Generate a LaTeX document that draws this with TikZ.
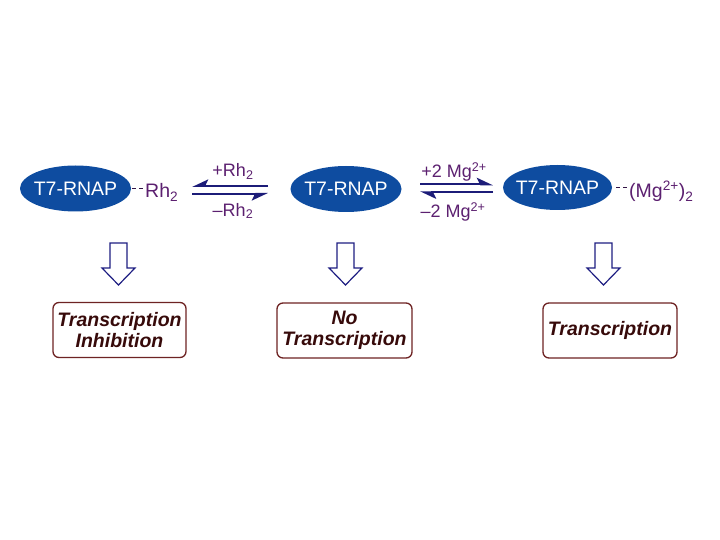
\documentclass[tikz,border=0pt]{standalone}
\usepackage{fontspec}
\setmainfont{Liberation Sans}
\usetikzlibrary{arrows.meta,shapes.geometric}
\definecolor{rnap}{RGB}{14,76,160}
\definecolor{lig}{RGB}{92,32,112}
\definecolor{bondcol}{RGB}{50,20,70}
\definecolor{eqarrow}{RGB}{28,28,120}
\definecolor{hollowline}{RGB}{30,30,130}
\definecolor{boxline}{RGB}{110,35,35}
\definecolor{boxtext}{RGB}{55,10,10}
\begin{document}
\begin{tikzpicture}[x=1pt,y=-1pt,
  enzyme/.style={ellipse, fill=rnap, text=white, minimum width=111pt, minimum height=46pt, inner xsep=-6pt, inner ysep=0pt, font=\fontsize{19.5}{20}\selectfont},
  ligand/.style={text=lig, inner sep=0pt, font=\fontsize{19.5}{20}\selectfont, anchor=base west},
  eqlabel/.style={text=lig, inner sep=0pt, font=\fontsize{18}{20}\selectfont, anchor=base},
  eqline/.style={draw=eqarrow, line width=2pt},
  tipswap/.style={-{Stealth[harpoon,swap,length=14pt,width=13pt,inset=3pt]}},
  tipnorm/.style={-{Stealth[harpoon,length=14pt,width=13pt,inset=3pt]}},
  bond/.style={draw=bondcol, line width=1.8pt, dash pattern=on 4pt off 3pt},
  result/.style={draw=boxline, line width=1.3pt, rounded corners=6pt, text=boxtext, align=center, inner sep=0pt, minimum height=55pt, font=\fontsize{19.5}{20.5}\selectfont\bfseries\itshape},
  hollowdown/.pic={\draw[draw=hollowline, line width=1.2pt, fill=white, line join=miter]
     (-8.5,0) -- (-8.5,25) -- (-16.5,25) -- (0,42) -- (16.5,25) -- (8.5,25) -- (8.5,0) -- cycle;}
]
\useasboundingbox[fill=white] (0,0) rectangle (720,540);

% enzymes
\node[enzyme] (e1) at (75.5,188.5) {T7-RNAP};
\node[enzyme] (e2) at (346,189) {T7-RNAP};
\node[enzyme, minimum width=109pt, minimum height=45pt] (e3) at (557.5,187.5) {T7-RNAP};

% ligands
\node[ligand] (rh1) at (145,198) {Rh\textsubscript{2}};
\node[ligand] (mg3) at (629,198) {(Mg\textsuperscript{2+})\textsubscript{2}};
\draw[bond] ([xshift=1pt]e1.east) -- (e1.east -| rh1.west);
\draw[bond] ([xshift=4pt]e3.east) -- ([xshift=-1pt]e3.east -| mg3.west);

% equilibrium 1
\coordinate (q1l) at (192,190);
\coordinate (q1r) at (268,190);
\draw[eqline, tipswap] ([yshift=4pt]q1r) -- ([yshift=4pt]q1l);
\draw[eqline, tipswap] ([yshift=-4pt]q1l) -- ([yshift=-4pt]q1r);
\node[eqlabel] (l1a) at (233,177) {+Rh\textsubscript{2}};
\node[eqlabel] (l1b) at (233,216) {–Rh\textsubscript{2}};

% equilibrium 2
\coordinate (q2l) at (420,188.3);
\coordinate (q2r) at (493,188.3);
\draw[eqline, tipnorm] ([yshift=4pt]q2l) -- ([yshift=4pt]q2r);
\draw[eqline, tipnorm] ([yshift=-4pt]q2r) -- ([yshift=-4pt]q2l);
\node[eqlabel] (l2a) at (454,178) {+2 Mg\textsuperscript{2+}};
\node[eqlabel] (l2b) at (453,218) {–2 Mg\textsuperscript{2+}};

% hollow arrows
\pic (d1) at (118.5,243) {hollowdown};
\pic (d2) at (345.5,243) {hollowdown};
\pic (d3) at (603.5,243) {hollowdown};

% result boxes
\node[result, minimum width=133pt] (b1) at (119.5,330) {Transcription\\Inhibition};
\node[result, minimum width=135pt] (b2) at (344.5,330.5) {No\\Transcription};
\node[result, minimum width=134pt] (b3) at (610,330.5) {Transcription};
\end{tikzpicture}
\end{document}
